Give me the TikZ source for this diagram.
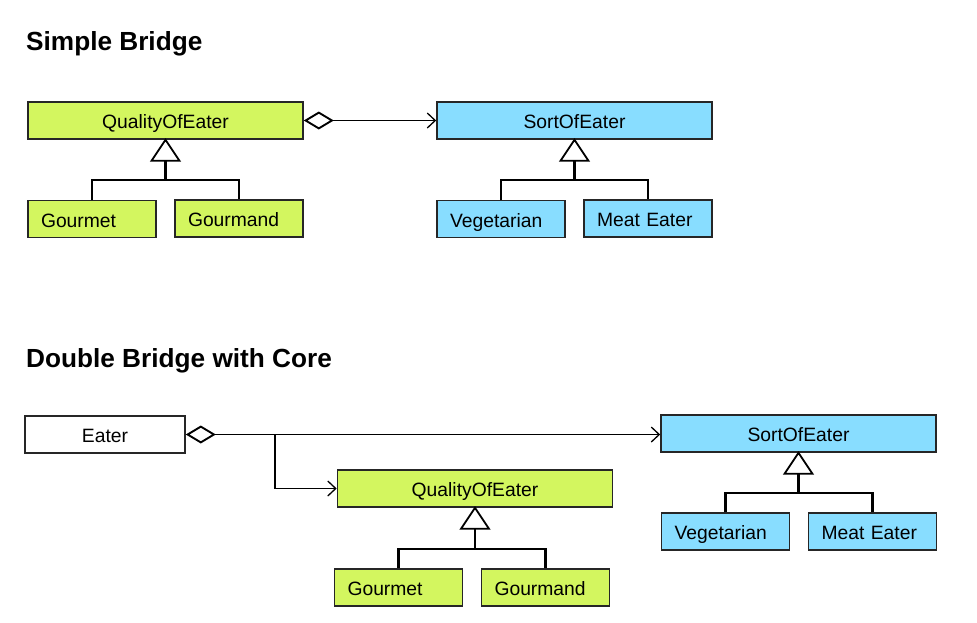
\documentclass[tikz,border=0pt]{standalone}
\usepackage{fontspec}
\setmainfont{Liberation Sans}
\usetikzlibrary{arrows.meta}
\definecolor{qgreen}{HTML}{D3F65F}
\definecolor{sblue}{HTML}{88DDFF}
\tikzset{
  box/.style={draw=black!85, line width=1.6pt, rectangle, minimum height=37pt, inner sep=0pt, text height=16pt, text depth=0pt, font=\fontsize{19.3}{21}\selectfont},
  cbox/.style={box, minimum width=275pt},
  lbox/.style={box, minimum width=128pt, text width=102pt, inner xsep=13pt, align=left},
  green/.style={fill=qgreen},
  blue/.style={fill=sblue},
  title/.style={anchor=base west, inner sep=0pt, font=\fontsize{26.2}{28}\selectfont\bfseries},
  tri/.style={draw=black, line width=1.8pt, fill=white, line join=miter},
  gen/.style={draw=black, line width=2.2pt},
  agg/.style={draw=black, line width=1.3pt, {Diamond[open,length=30pt,width=18pt,line width=1.9pt]}-{Straight Barb[length=8pt,width=15pt,line width=1.3pt]}},
  assoc/.style={draw=black, line width=1.3pt, -{Straight Barb[length=8pt,width=15pt,line width=1.3pt]}}
}
\begin{document}
\begin{tikzpicture}[x=1pt,y=-1pt]
\useasboundingbox (0,0) rectangle (977,622);
% ---------- Simple Bridge ----------
\node[title] (t1) at (26,50) {Simple Bridge};
\node[cbox,green] (q1) at (165.5,120.5) {QualityOfEater};
\node[cbox,blue] (s1) at (574.5,120.5) {SortOfEater};
\node[lbox,green] (g1) at (92,219) {Gourmet};
\node[lbox,green] (gd1) at (239,218.5) {Gourmand};
\node[lbox,blue] (v1) at (501,219) {Vegetarian};
\node[lbox,blue] (m1) at (648,218.5) {Meat Eater};
\draw[agg] (q1.east) -- (s1.west);
% generalisation QualityOfEater
\draw[gen] (g1.north) -- (92,180) -- (239,180) -- (gd1.north);
\coordinate (qb1) at (165.5,161);
\draw[gen] (qb1) -- (165.5,180);
\draw[tri] (q1.south) -- ++(-14,21) -- ++(28,0) -- cycle;
% generalisation SortOfEater
\draw[gen] (v1.north) -- (501,180) -- (648,180) -- (m1.north);
\coordinate (sb1) at (574.5,161);
\draw[gen] (sb1) -- (574.5,180);
\draw[tri] (s1.south) -- ++(-14,21) -- ++(28,0) -- cycle;
% ---------- Double Bridge with Core ----------
\node[title] (t2) at (26,367) {Double Bridge with Core};
\node[box, minimum width=160pt, fill=white] (e) at (105,434.5) {Eater};
\node[cbox,blue] (s2) at (798.5,433.5) {SortOfEater};
\node[cbox,green] (q2) at (475,488.5) {QualityOfEater};
\node[lbox,green] (g2) at (398.5,587.5) {Gourmet};
\node[lbox,green] (gd2) at (545.5,587.5) {Gourmand};
\node[lbox,blue] (v2) at (725.5,531.5) {Vegetarian};
\node[lbox,blue] (m2) at (872.5,531.5) {Meat Eater};
\draw[agg] (e.east) -- (e.east -| s2.west);
\coordinate (br) at (275,434.5);
\draw[assoc] (br) |- (q2.west);
% generalisation QualityOfEater
\draw[gen] (g2.north) -- (398.5,549) -- (545.5,549) -- (gd2.north);
\coordinate (qb2) at (475,528);
\draw[gen] (qb2) -- (475,549);
\draw[tri] (q2.south) -- ++(-14,21) -- ++(28,0) -- cycle;
% generalisation SortOfEater
\draw[gen] (v2.north) -- (725.5,493) -- (872.5,493) -- (m2.north);
\coordinate (sb2) at (798.5,473);
\draw[gen] (sb2) -- (798.5,493);
\draw[tri] (s2.south) -- ++(-14,21) -- ++(28,0) -- cycle;
\end{tikzpicture}
\end{document}
